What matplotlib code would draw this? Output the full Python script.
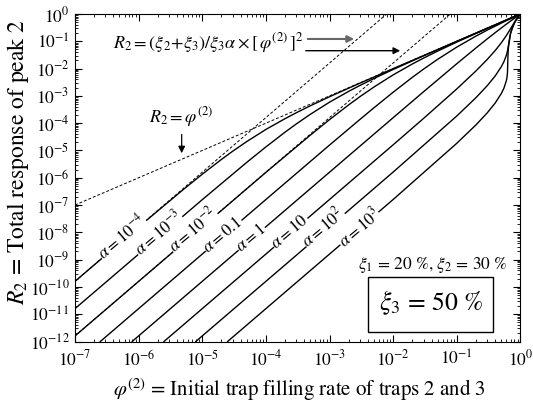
import numpy as np
import matplotlib
matplotlib.use('Agg')
import matplotlib.pyplot as plt
from matplotlib.patches import Rectangle
from matplotlib.ticker import LogLocator, NullFormatter

plt.rcParams['font.family'] = 'STIXGeneral'
plt.rcParams['mathtext.fontset'] = 'stix'

# R2 vs phi(2) for each alpha
phi_a1e4 = [1e-7, 1e-6, 5e-6, 1e-5, 2e-5, 3e-5, 5e-5, 1e-4, 2e-4, 3e-4, 5e-4, 1e-3, 3e-3, 1e-2, 0.1, 1.0]
R_a1e4 = [1.6e-10, 1.575e-8, 3.656e-7, 1.349e-6, 4.683e-6, 9.344e-6, 2.117e-5, 5.888e-5,
          1.465e-4, 2.406e-4, 4.344e-4, 9.293e-4, 2.924e-3, 9.925e-3, 0.0999, 1.0]

phi_a1e3 = [1e-7, 1e-5, 5e-5, 1e-4, 2e-4, 3e-4, 5e-4, 1e-3, 2e-3, 3e-3, 5e-3, 1e-2, 3e-2, 0.1, 0.3, 1.0]
R_a1e3 = [1.6e-11, 1.575e-7, 3.656e-6, 1.349e-5, 4.683e-5, 9.344e-5, 2.117e-4, 5.888e-4,
          1.465e-3, 2.406e-3, 4.344e-3, 9.29e-3, 0.02924, 0.0993, 0.2995, 1.0]

phi_a1e2 = [1e-7, 1e-4, 5e-4, 1e-3, 2e-3, 3e-3, 5e-3, 1e-2, 2e-2, 3e-2, 5e-2, 0.1, 0.3, 0.6, 1.0]
R_a1e2 = [1.6e-12, 1.575e-6, 3.656e-5, 1.349e-4, 4.683e-4, 9.34e-4, 2.117e-3, 5.888e-3,
          0.014725, 0.02419, 0.04371, 0.09355, 0.2946, 0.5968, 1.0]

phi_a1e1 = [2.5e-7, 1e-6, 1e-4, 1e-3, 3e-3, 5e-3, 1e-2, 2e-2, 3e-2, 5e-2, 0.1, 0.2, 0.3, 0.6, 1.0]
R_a1e1 = [1e-12, 1.6e-11, 1.597e-7, 1.576e-5, 1.368e-4, 3.68e-4, 1.363e-3, 4.773e-3,
          9.56e-3, 0.02187, 0.0613, 0.155, 0.256, 0.5712, 1.0]

phi_a1 = [7.9e-7, 1e-5, 1e-3, 1e-2, 3e-2, 0.1, 0.2, 0.3, 0.4, 0.5, 0.6, 0.7, 0.85, 1.0]
R_a1 = [1e-12, 1.6e-10, 1.599e-6, 1.59e-4, 1.415e-3, 0.01509, 0.0571, 0.122, 0.2065,
        0.3077, 0.4235, 0.552, 0.7656, 1.0]

phi_a10 = [2.5e-6, 1e-4, 1e-3, 1e-2, 3e-2, 0.1, 0.2, 0.3, 0.4, 0.5, 0.6, 0.7, 0.85, 0.95, 1.0]
R_a10 = [1e-12, 1.6e-9, 1.6e-7, 1.614e-5, 1.49e-4, 1.8e-3, 8.213e-3, 0.02152, 0.04565,
         0.088, 0.1621, 0.2912, 0.6109, 0.8664, 1.0]

phi_a100 = [7.9e-6, 1e-3, 1e-2, 0.1, 0.2, 0.3, 0.4, 0.5, 0.55, 0.6, 0.62, 0.65, 0.68, 0.7, 0.75, 0.85, 1.0]
R_a100 = [1e-12, 1.6e-8, 1.62e-6, 1.836e-4, 8.62e-4, 2.353e-3, 5.344e-3, 0.01171, 0.01804,
          0.03051, 0.04034, 0.0742, 0.1469, 0.2, 0.333, 0.6, 1.0]

phi_a1000 = [2.5e-5, 1e-3, 1e-2, 0.1, 0.2, 0.3, 0.4, 0.5, 0.55, 0.6, 0.61, 0.62, 0.625,
             0.63, 0.635, 0.64, 0.65, 0.7, 0.8, 0.9, 1.0]
R_a1000 = [1e-12, 1.6e-9, 1.6e-7, 1.837e-5, 8.64e-5, 2.376e-4, 5.44e-4, 1.217e-3, 1.924e-3,
           3.6e-3, 4.36e-3, 5.79e-3, 7.4e-3, 0.01352, 0.027, 0.04, 0.0667, 0.2, 0.467, 0.733, 1.0]

# dashed reference lines
phi_linear = [1e-7, 1.0]
R_linear = [1e-7, 1.0]
phi_asym_1e4 = [1e-7, 7.9e-3]
R_asym_1e4 = [1.6e-10, 1.0]
phi_asym_1e2 = [1e-7, 7.9e-2]
R_asym_1e2 = [1.6e-12, 1.0]

curves = [(phi_a1e4, R_a1e4), (phi_a1e3, R_a1e3), (phi_a1e2, R_a1e2), (phi_a1e1, R_a1e1),
          (phi_a1, R_a1), (phi_a10, R_a10), (phi_a100, R_a100), (phi_a1000, R_a1000)]

alpha_labels = [r'$\alpha = 10^{-4}$', r'$\alpha = 10^{-3}$', r'$\alpha = 10^{-2}$',
                r'$\alpha = 0.1$', r'$\alpha = 1$', r'$\alpha = 10$',
                r'$\alpha = 10^{2}$', r'$\alpha = 10^{3}$']
label_pos = [(0.1048, 0.320), (0.1863, 0.3313), (0.2649, 0.3405), (0.3322, 0.3252),
             (0.3951, 0.316), (0.4826, 0.3344), (0.5567, 0.3496), (0.6375, 0.3466)]

fig = plt.figure(figsize=(5.33, 4.03), dpi=100)
ax = fig.add_axes([0.1407, 0.1526, 0.8358, 0.8127])

dash = (0, (3, 2))
ax.plot(phi_linear, R_linear, color='black', lw=0.7, ls=dash)
ax.plot(phi_asym_1e4, R_asym_1e4, color='black', lw=0.7, ls=dash)
ax.plot(phi_asym_1e2, R_asym_1e2, color='black', lw=0.7, ls=dash)

for phi, R in curves:
    ax.plot(phi, R, color='black', lw=1.0)

ax.set_xscale('log')
ax.set_yscale('log')
ax.set_xlim(1e-7, 1)
ax.set_ylim(1e-12, 1)

for axis in (ax.xaxis, ax.yaxis):
    axis.set_major_locator(LogLocator(base=10, numticks=20))
    axis.set_minor_locator(LogLocator(base=10, subs=np.arange(2, 10), numticks=20))
    axis.set_minor_formatter(NullFormatter())
ax.tick_params(which='both', direction='in', top=True, right=True, labelsize=12.5)
ax.tick_params(which='major', length=5, width=0.8)
ax.tick_params(which='minor', length=2.5, width=0.6)
ax.tick_params(axis='x', pad=6)
ax.tick_params(axis='y', pad=4)

ax.set_xlabel(r'$\varphi^{(2)}$ = Initial trap filling rate of traps 2 and 3', fontsize=15, va='center')
ax.set_ylabel(r'$R_2$ = Total response of peak 2', fontsize=17, va='center')
ax.xaxis.set_label_coords(0.503, -0.148)
ax.yaxis.set_label_coords(-0.127, 0.548)

for text, (x, y) in zip(alpha_labels, label_pos):
    ax.text(x, y, text, transform=ax.transAxes, fontsize=12, rotation=40,
            ha='center', va='center', rotation_mode='anchor',
            bbox=dict(facecolor='white', edgecolor='none', pad=0.3))

ax.text(0.0853, 0.896, r'$R_2 = (\xi_2\!+\!\xi_3)/\xi_3\alpha \times [\,\varphi^{(2)}\,]^2$',
        transform=ax.transAxes, fontsize=13, ha='left', va='baseline')
ax.annotate('', xy=(0.633, 0.9237), xytext=(0.5163, 0.9237), xycoords='axes fraction',
            arrowprops=dict(arrowstyle='-|>', color='#666666', lw=1.5, mutation_scale=10))
ax.annotate('', xy=(0.7363, 0.8879), xytext=(0.5118, 0.8879), xycoords='axes fraction',
            arrowprops=dict(arrowstyle='-|>', color='black', lw=1.0, mutation_scale=10))

ax.text(0.238, 0.685, r'$R_2 = \varphi^{(2)}$', transform=ax.transAxes, fontsize=13,
        ha='center', va='center')
ax.annotate('', xy=(0.2395, 0.5664), xytext=(0.2395, 0.6406), xycoords='axes fraction',
            arrowprops=dict(arrowstyle='-|>', color='black', lw=0.9, mutation_scale=10))

ax.text(0.8036, 0.2336, r'$\xi_1$ = 20 %, $\xi_2$ = 30 %', transform=ax.transAxes,
        fontsize=12.5, ha='center', va='center')
ax.add_patch(Rectangle((0.6584, 0.0299), 0.2806, 0.168, transform=ax.transAxes,
                       fill=False, edgecolor='black', lw=1.0))
ax.text(0.799, 0.1176, r'$\xi_3$ = 50 %', transform=ax.transAxes, fontsize=18.5,
        ha='center', va='center')

fig.savefig('out.png', dpi=100)
